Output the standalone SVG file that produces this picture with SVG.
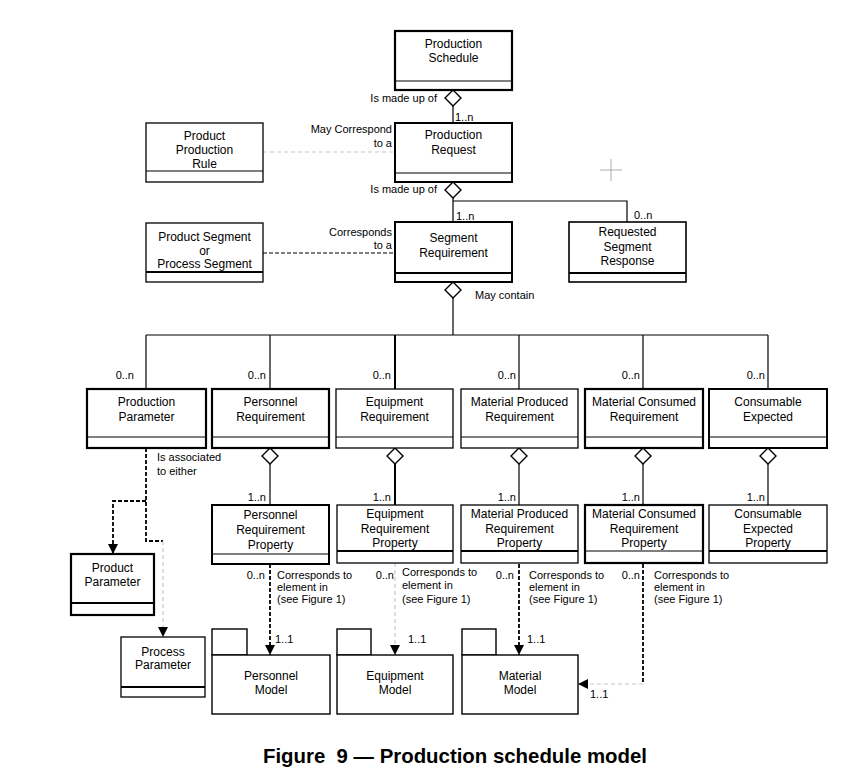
<svg xmlns="http://www.w3.org/2000/svg" width="855" height="777" viewBox="0 0 855 777">
<style>
.box{fill:#fff;stroke:#000;stroke-width:1.6}
.dv{stroke:#000;stroke-width:1.2}
.dvt{stroke:#000;stroke-width:2.2}
.t{font-family:"Liberation Sans",Arial,sans-serif;font-size:12px;fill:#000;text-anchor:middle}
.l{font-family:"Liberation Sans",Arial,sans-serif;font-size:11px;fill:#000}
.r{text-anchor:end}
.ln{fill:none;stroke:#000;stroke-width:1.2}
.dia{fill:#fff;stroke:#000;stroke-width:1.4}
.bd{fill:none;stroke:#000;stroke-width:1.8;stroke-dasharray:4,2}
.gd{fill:none;stroke:#c8c8c8;stroke-width:1.2;stroke-dasharray:4,3}
</style>
<defs>
<marker id="ah" markerUnits="userSpaceOnUse" markerWidth="11" markerHeight="11" refX="10" refY="5" orient="auto">
<path d="M0,0 L10,5 L0,10 z" fill="#000"/>
</marker>
</defs>
<rect width="855" height="777" fill="#fff"/>

<g id="connectors">
<polygon class="dia" points="453,90 461,98 453,106 445,98"/>
<line class="ln" x1="453" y1="106" x2="453" y2="123"/>
<line class="gd" x1="263" y1="152" x2="395" y2="152"/>
<polygon class="dia" points="453,182 461,190 453,198 445,190"/>
<line class="ln" x1="453" y1="198" x2="453" y2="222"/>
<polyline class="ln" points="453,201 627,201 627,222"/>
<line class="bd" x1="263" y1="253" x2="395" y2="253" style="stroke-width:1.2"/>
<polygon class="dia" points="453,282 461,290 453,298 445,290"/>
<line class="ln" x1="453" y1="298" x2="453" y2="335"/>
<line class="ln" x1="146" y1="335" x2="768" y2="335"/>
<line class="ln" x1="146" y1="335" x2="146" y2="389"/>
<line class="ln" x1="270" y1="335" x2="270" y2="389"/>
<line class="ln" x1="395" y1="335" x2="395" y2="389" style="stroke-width:2"/>
<line class="ln" x1="519" y1="335" x2="519" y2="389"/>
<line class="ln" x1="643" y1="335" x2="643" y2="389"/>
<line class="ln" x1="768" y1="335" x2="768" y2="389"/>
<polygon class="dia" points="270,448 278,456 270,464 262,456"/>
<polygon class="dia" points="395,448 403,456 395,464 387,456"/>
<polygon class="dia" points="519,448 527,456 519,464 511,456"/>
<polygon class="dia" points="643,448 651,456 643,464 635,456"/>
<polygon class="dia" points="768,448 776,456 768,464 760,456"/>
<line class="ln" x1="270" y1="464" x2="270" y2="505"/>
<line class="ln" x1="395" y1="464" x2="395" y2="505" style="stroke-width:2"/>
<line class="ln" x1="519" y1="464" x2="519" y2="505"/>
<line class="ln" x1="643" y1="464" x2="643" y2="505"/>
<line class="ln" x1="768" y1="464" x2="768" y2="505"/>
<path class="bd" d="M146,448 V541 H163"/>
<path class="bd" d="M146,501 H113 V554" marker-end="url(#ah)"/>
<path class="gd" d="M163,541 V637" marker-end="url(#ah)"/>
<path class="bd" d="M270,564 V655" marker-end="url(#ah)"/>
<path class="gd" d="M395,563 V655" marker-end="url(#ah)"/>
<path class="bd" d="M519,564 V655" marker-end="url(#ah)"/>
<path class="bd" d="M643,564 V684"/>
<path class="gd" d="M643,684 H578" marker-end="url(#ah)"/>
<line x1="600" y1="170" x2="622" y2="170" stroke="#999" stroke-width="0.8"/>
<line x1="611" y1="159" x2="611" y2="181" stroke="#999" stroke-width="0.8"/>
</g>

<g id="labels">
<text class="l r" x="437" y="102">Is made up of</text>
<text class="l" x="455" y="121">1..n</text>
<text class="l r" x="392" y="133">May Correspond</text>
<text class="l r" x="392" y="147">to a</text>
<text class="l r" x="437" y="193">Is made up of</text>
<text class="l" x="456" y="220">1..n</text>
<text class="l" x="634" y="219">0..n</text>
<text class="l r" x="392" y="236">Corresponds</text>
<text class="l r" x="392" y="249">to a</text>
<text class="l" x="475" y="299">May contain</text>
<text class="l r" x="134" y="379">0..n</text>
<text class="l r" x="266" y="379">0..n</text>
<text class="l r" x="391" y="379">0..n</text>
<text class="l r" x="516" y="379">0..n</text>
<text class="l r" x="640" y="379">0..n</text>
<text class="l r" x="765" y="379">0..n</text>
<text class="l" x="157" y="461">Is associated</text>
<text class="l" x="157" y="475">to either</text>
<text class="l r" x="266" y="501">1..n</text>
<text class="l r" x="391" y="501">1..n</text>
<text class="l r" x="516" y="501">1..n</text>
<text class="l r" x="640" y="501">1..n</text>
<text class="l r" x="765" y="501">1..n</text>
<text class="l r" x="265" y="579">0..n</text>
<text class="l" x="277" y="579">Corresponds to</text>
<text class="l" x="277" y="591">element in</text>
<text class="l" x="277" y="603">(see Figure 1)</text>
<text class="l r" x="394" y="579">0..n</text>
<text class="l" x="402" y="576">Corresponds to</text>
<text class="l" x="402" y="589">element in</text>
<text class="l" x="402" y="603">(see Figure 1)</text>
<text class="l r" x="514" y="579">0..n</text>
<text class="l" x="529" y="579">Corresponds to</text>
<text class="l" x="529" y="591">element in</text>
<text class="l" x="529" y="603">(see Figure 1)</text>
<text class="l r" x="640" y="579">0..n</text>
<text class="l" x="654" y="579">Corresponds to</text>
<text class="l" x="654" y="591">element in</text>
<text class="l" x="654" y="603">(see Figure 1)</text>
<text class="l" x="275" y="643">1..1</text>
<text class="l" x="408" y="643">1..1</text>
<text class="l" x="527" y="643">1..1</text>
<text class="l" x="590" y="698">1..1</text>
</g>

<g id="production-schedule">
<rect class="box" x="395" y="31" width="117" height="59" style="stroke-width:2.2"/>
<line class="dv" x1="395" y1="81" x2="512" y2="81"/>
<text class="t" x="453.5" y="48">Production</text>
<text class="t" x="453.5" y="62">Schedule</text>
</g>
<g id="production-request">
<rect class="box" x="395" y="123" width="117" height="59" style="stroke-width:2"/>
<line class="dv" x1="395" y1="173" x2="512" y2="173"/>
<text class="t" x="453.5" y="139">Production</text>
<text class="t" x="453.5" y="154">Request</text>
</g>
<g id="product-production-rule">
<rect class="box" x="146" y="123" width="117" height="59" style="stroke-width:1.3"/>
<line class="dv" x1="146" y1="171" x2="263" y2="171"/>
<text class="t" x="204.5" y="140">Product</text>
<text class="t" x="204.5" y="154">Production</text>
<text class="t" x="204.5" y="168">Rule</text>
</g>
<g id="segment-requirement">
<rect class="box" x="395" y="222" width="117" height="60" style="stroke-width:2"/>
<line class="dvt" x1="395" y1="273" x2="512" y2="273"/>
<text class="t" x="453.5" y="242">Segment</text>
<text class="t" x="453.5" y="257">Requirement</text>
</g>
<g id="requested-segment-response">
<rect class="box" x="569" y="222" width="117" height="60"/>
<line class="dvt" x1="569" y1="273" x2="686" y2="273"/>
<text class="t" x="627.5" y="236">Requested</text>
<text class="t" x="627.5" y="251">Segment</text>
<text class="t" x="627.5" y="265">Response</text>
</g>
<g id="product-or-process-segment">
<rect class="box" x="146" y="223" width="117" height="59" style="stroke-width:1.3"/>
<line class="dvt" x1="146" y1="272" x2="263" y2="272"/>
<text class="t" x="204.5" y="241">Product Segment</text>
<text class="t" x="204.5" y="255">or</text>
<text class="t" x="204.5" y="268">Process Segment</text>
</g>

<g id="production-parameter">
<rect class="box" x="87" y="389" width="119" height="59" style="stroke-width:2.2"/>
<line class="dv" x1="87" y1="437" x2="206" y2="437"/>
<text class="t" x="146.5" y="406">Production</text>
<text class="t" x="146.5" y="421">Parameter</text>
</g>
<g id="personnel-requirement">
<rect class="box" x="212" y="389" width="117" height="59" style="stroke-width:2.2"/>
<line class="dv" x1="212" y1="437" x2="329" y2="437"/>
<text class="t" x="270.5" y="406">Personnel</text>
<text class="t" x="270.5" y="421">Requirement</text>
</g>
<g id="equipment-requirement">
<rect class="box" x="336" y="389" width="117" height="59" style="stroke-width:1.3"/>
<line class="dv" x1="336" y1="437" x2="453" y2="437"/>
<text class="t" x="394.5" y="406">Equipment</text>
<text class="t" x="394.5" y="421">Requirement</text>
</g>
<g id="material-produced-requirement">
<rect class="box" x="461" y="389" width="117" height="59" style="stroke-width:1.3"/>
<line class="dv" x1="461" y1="437" x2="578" y2="437"/>
<text class="t" x="519.5" y="406">Material Produced</text>
<text class="t" x="519.5" y="421">Requirement</text>
</g>
<g id="material-consumed-requirement">
<rect class="box" x="585" y="389" width="118" height="59" style="stroke-width:2.2"/>
<line class="dv" x1="585" y1="437" x2="703" y2="437"/>
<text class="t" x="644" y="406">Material Consumed</text>
<text class="t" x="644" y="421">Requirement</text>
</g>
<g id="consumable-expected">
<rect class="box" x="709" y="389" width="118" height="59" style="stroke-width:2"/>
<line class="dv" x1="709" y1="437" x2="827" y2="437"/>
<text class="t" x="768" y="406">Consumable</text>
<text class="t" x="768" y="421">Expected</text>
</g>

<g id="personnel-requirement-property">
<rect class="box" x="212" y="505" width="117" height="59" style="stroke-width:2"/>
<line class="dv" x1="212" y1="554" x2="329" y2="554"/>
<text class="t" x="270.5" y="519">Personnel</text>
<text class="t" x="270.5" y="534">Requirement</text>
<text class="t" x="270.5" y="549">Property</text>
</g>
<g id="equipment-requirement-property">
<rect class="box" x="337" y="505" width="116" height="58" style="stroke-width:1.3"/>
<line class="dvt" x1="337" y1="551" x2="453" y2="551"/>
<text class="t" x="395" y="518">Equipment</text>
<text class="t" x="395" y="533">Requirement</text>
<text class="t" x="395" y="547">Property</text>
</g>
<g id="material-produced-requirement-property">
<rect class="box" x="461" y="505" width="117" height="58" style="stroke-width:1.3"/>
<line class="dvt" x1="461" y1="551" x2="578" y2="551"/>
<text class="t" x="519.5" y="518">Material Produced</text>
<text class="t" x="519.5" y="533">Requirement</text>
<text class="t" x="519.5" y="547">Property</text>
</g>
<g id="material-consumed-requirement-property">
<rect class="box" x="585" y="505" width="118" height="58" style="stroke-width:2.2"/>
<line class="dv" x1="585" y1="551" x2="703" y2="551"/>
<text class="t" x="644" y="518">Material Consumed</text>
<text class="t" x="644" y="533">Requirement</text>
<text class="t" x="644" y="547">Property</text>
</g>
<g id="consumable-expected-property">
<rect class="box" x="709" y="505" width="118" height="58" style="stroke-width:1.3"/>
<line class="dvt" x1="709" y1="551" x2="827" y2="551"/>
<text class="t" x="768" y="518">Consumable</text>
<text class="t" x="768" y="533">Expected</text>
<text class="t" x="768" y="547">Property</text>
</g>

<g id="product-parameter">
<rect class="box" x="71" y="554" width="83" height="61" style="stroke-width:2.2"/>
<line class="dvt" x1="71" y1="603" x2="154" y2="603"/>
<text class="t" x="112.5" y="572">Product</text>
<text class="t" x="112.5" y="586">Parameter</text>
</g>
<g id="process-parameter">
<rect class="box" x="121" y="637" width="84" height="60" style="stroke-width:1.3"/>
<line class="dvt" x1="121" y1="687" x2="205" y2="687"/>
<text class="t" x="163" y="656">Process</text>
<text class="t" x="163" y="669">Parameter</text>
</g>

<g id="personnel-model">
<rect class="box" x="212" y="629" width="35" height="26" style="stroke-width:1.4"/>
<rect class="box" x="212" y="655" width="118" height="59" style="stroke-width:1.4"/>
<text class="t" x="271" y="680">Personnel</text>
<text class="t" x="271" y="694">Model</text>
</g>
<g id="equipment-model">
<rect class="box" x="337" y="629" width="34" height="26" style="stroke-width:1.4"/>
<rect class="box" x="337" y="655" width="116" height="59" style="stroke-width:1.4"/>
<text class="t" x="395" y="680">Equipment</text>
<text class="t" x="395" y="694">Model</text>
</g>
<g id="material-model">
<rect class="box" x="462" y="629" width="34" height="26" style="stroke-width:1.4"/>
<rect class="box" x="462" y="655" width="116" height="59" style="stroke-width:1.4"/>
<text class="t" x="520" y="680">Material</text>
<text class="t" x="520" y="694">Model</text>
</g>

<text x="455" y="763" xml:space="preserve" style="font-family:'Liberation Sans',Arial,sans-serif;font-size:20.4px;font-weight:bold;text-anchor:middle">Figure  9 — Production schedule model</text>
</svg>
